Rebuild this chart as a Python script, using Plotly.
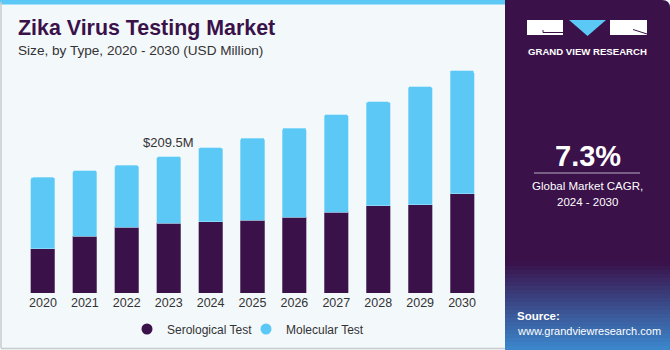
import plotly.graph_objects as go

years = ["2020", "2021", "2022", "2023", "2024", "2025", "2026", "2027", "2028", "2029", "2030"]
serological = [68.1, 87.6, 101.4, 107.0, 109.6, 111.6, 116.2, 124.5, 134.2, 135.7, 152.2]
molecular = [109.6, 100.4, 94.7, 102.5, 113.7, 126.6, 137.4, 149.5, 159.4, 181.4, 189.5]
highlight_label = "$209.5M"
highlight_year = "2023"

W, H = 670, 350
L, R, T, B = 22, 187, 60, 57
PW, PH = W - L - R, H - T - B

def xp(px):
    return (px - L) / PW

def yp(py):
    return (H - B - py) / PH

PURPLE = "#3A1149"
BLUE = "#5BC8F5"
FONT = "Liberation Sans, Arial, sans-serif"

fig = go.Figure()
fig.add_trace(go.Bar(x=years, y=serological, name="Serological Test", showlegend=False,
                     marker=dict(color=PURPLE, line=dict(width=0.6, color="#8a7a9a"))))
fig.add_trace(go.Bar(x=years, y=molecular, name="Molecular Test", showlegend=False,
                     marker=dict(color=BLUE, line=dict(width=0.6, color="#a8e2fa"))))
# legend entries with circle symbols
fig.add_trace(go.Scatter(x=[None], y=[None], mode="markers", name="Serological Test", legend="legend",
                         marker=dict(symbol="circle", size=11, color=PURPLE)))
fig.add_trace(go.Scatter(x=[None], y=[None], mode="markers", name="Molecular Test", legend="legend2",
                         marker=dict(symbol="circle", size=11, color=BLUE)))

idx = years.index(highlight_year)
total_h = serological[idx] + molecular[idx]
fig.add_annotation(x=idx, y=total_h, text=highlight_label, showarrow=False,
                   yanchor="bottom", yshift=5, font=dict(family=FONT, size=13, color="#333333"))

shapes = []
# left card border
shapes.append(dict(type="line", xref="paper", yref="paper", x0=xp(1), x1=xp(1), y0=yp(2), y1=yp(348),
                   line=dict(color="#C9CCCE", width=1.5)))
shapes.append(dict(type="line", xref="paper", yref="paper", x0=xp(1), x1=xp(506), y0=yp(348.5), y1=yp(348.5),
                   line=dict(color="#C9CCCE", width=1.5)))
# top stripe
shapes.append(dict(type="rect", xref="paper", yref="paper", x0=xp(0), x1=xp(506), y0=yp(0), y1=yp(4.5),
                   fillcolor=BLUE, line=dict(width=0), layer="below"))
# right panel
p = "M {a},{b} L {c},{b} Q {d},{b} {d},{e} L {d},{f} L {a},{f} Z".format(
    a=xp(505), b=yp(0), c=xp(662), d=xp(670), e=yp(8), f=yp(350))
shapes.append(dict(type="path", xref="paper", yref="paper", path=p, fillcolor=PURPLE, line=dict(width=0)))
# gradient source area
c0 = (0x3A, 0x11, 0x49)
c1 = (0x3C, 0x88, 0xCE)
y_start, y_end = 262, 350
n = 22
for i in range(n):
    t = (i + 0.5) / n
    col = tuple(int(c0[k] + (c1[k] - c0[k]) * t) for k in range(3))
    ya = y_start + (y_end - y_start) * i / n
    yb = y_start + (y_end - y_start) * (i + 1) / n + 0.5
    shapes.append(dict(type="rect", xref="paper", yref="paper", x0=xp(505), x1=xp(670),
                       y0=yp(ya), y1=yp(yb), fillcolor="rgb(%d,%d,%d)" % col, line=dict(width=0)))
# logo
shapes.append(dict(type="rect", xref="paper", yref="paper", x0=xp(527), x1=xp(563), y0=yp(20), y1=yp(35),
                   fillcolor="white", line=dict(width=0)))
shapes.append(dict(type="path", xref="paper", yref="paper",
                   path="M {},{} L {},{} L {},{} Z".format(xp(569), yp(20), xp(606), yp(20), xp(587.5), yp(36)),
                   fillcolor=BLUE, line=dict(width=0)))
shapes.append(dict(type="rect", xref="paper", yref="paper", x0=xp(610), x1=xp(647), y0=yp(20), y1=yp(35),
                   fillcolor="white", line=dict(width=0)))
shapes.append(dict(type="path", xref="paper", yref="paper",
                   path="M {},{} L {},{} L {},{}".format(xp(543), yp(30), xp(543), yp(32.5), xp(563), yp(32.5)),
                   line=dict(color=PURPLE, width=1)))
shapes.append(dict(type="line", xref="paper", yref="paper", x0=xp(633), y0=yp(29.5), x1=xp(647), y1=yp(34),
                   line=dict(color=PURPLE, width=1)))
# CAGR rule
shapes.append(dict(type="line", xref="paper", yref="paper", x0=xp(534), x1=xp(640), y0=yp(173), y1=yp(173),
                   line=dict(color="#B9AFC2", width=1)))

def txt(x, y, s, size, color, bold=False, anchor="left"):
    fig.add_annotation(xref="paper", yref="paper", x=xp(x), y=yp(y), text=("<b>%s</b>" % s) if bold else s,
                       showarrow=False, xanchor=anchor, yanchor="middle",
                       font=dict(family=FONT, size=size, color=color))

txt(16, 28, "Zika Virus Testing Market", 21.4, PURPLE, bold=True)
txt(16, 50, "Size, by Type, 2020 - 2030 (USD Million)", 13.6, "#333333")
txt(587, 51, "GRAND VIEW RESEARCH", 9.6, "white", bold=True, anchor="center")
txt(588, 156, "7.3%", 29, "white", bold=True, anchor="center")
txt(587, 186, "Global Market CAGR,", 11.5, "white", anchor="center")
txt(587, 202, "2024 - 2030", 11.5, "white", anchor="center")
txt(515, 316, "Source:", 11.5, "white", bold=True)
txt(515, 331, "www.grandviewresearch.com", 11, "white")

leg_common = dict(orientation="h", yanchor="middle", y=yp(329), xanchor="left",
                  font=dict(family=FONT, size=12, color="#333333"), bgcolor="rgba(0,0,0,0)",
                  itemwidth=30)

fig.update_layout(
    width=W, height=H, margin=dict(l=L, r=R, t=T, b=B, autoexpand=False),
    paper_bgcolor="#F3F8FB", plot_bgcolor="#F3F8FB",
    barmode="stack", bargap=0.427, barcornerradius=2,
    font=dict(family=FONT, size=12, color="#333333"),
    xaxis=dict(type="category", showgrid=False, showline=False, ticks="",
               tickfont=dict(size=12.5, color="#333333"), fixedrange=True, range=[-0.5, 10.5]),
    yaxis=dict(range=[0, PH * 1.537], visible=False, showgrid=False, fixedrange=True),
    legend=dict(x=xp(127), **leg_common),
    legend2=dict(x=xp(246), **leg_common),
    shapes=shapes,
    showlegend=True,
)

fig.write_html("out.html", config={"displayModeBar": False})
